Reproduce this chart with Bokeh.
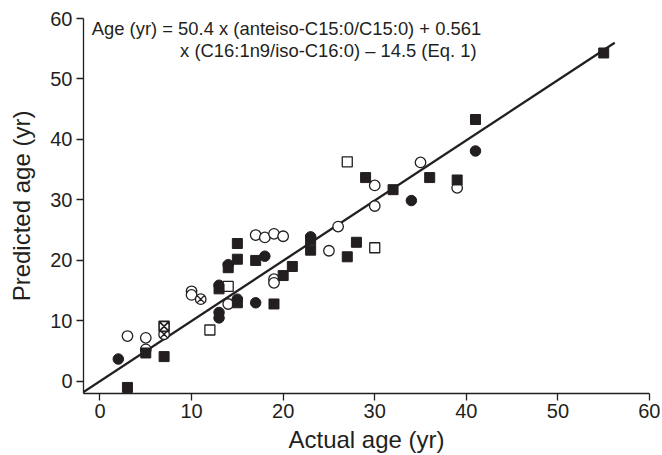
from bokeh.plotting import figure
from bokeh.models import Range1d, FixedTicker, Label
from bokeh.embed import file_html
from bokeh.resources import INLINE

# ---- data ----
# filled squares
sq_x = [3, 5, 7, 13, 14, 15, 15, 15, 17, 19, 20, 21, 23, 23, 27, 28, 29, 32, 36, 39, 41, 55]
sq_y = [-1.0, 4.7, 4.1, 15.3, 18.8, 22.8, 20.2, 13.0, 20.0, 12.8, 17.5, 19.0, 23.4, 21.7,
        20.6, 23.0, 33.7, 31.7, 33.7, 33.3, 43.3, 54.3]
# filled circles
fc_x = [2, 13, 13, 13, 14, 15, 17, 18, 23, 34, 41]
fc_y = [3.7, 15.9, 11.4, 10.5, 19.3, 13.6, 13.0, 20.7, 23.9, 29.9, 38.1]
# open circles
oc_x = [3, 5, 5, 10, 10, 14, 17, 18, 19, 20, 19, 19, 25, 26, 30, 30, 35, 39]
oc_y = [7.5, 7.2, 5.3, 14.9, 14.3, 12.8, 24.2, 23.8, 24.4, 24.0, 16.9, 16.3, 21.6, 25.6,
        32.4, 29.0, 36.2, 32.0]
# open squares
os_x = [12, 14, 27, 30]
os_y = [8.5, 15.7, 36.3, 22.1]
# crossed circles / crossed square
cx_x = [7, 11]
cx_y = [7.8, 13.6]
sx_x = [7]
sx_y = [9.1]
# fitted line
line_x = [-1.8, 56.2]
line_y = [-1.75, 56.0]

ticks = [0, 10, 20, 30, 40, 50, 60]
eq_line1 = "Age (yr) = 50.4 x (anteiso-C15:0/C15:0) + 0.561"
eq_line2 = "x (C16:1n9/iso-C16:0) \u2013 14.5 (Eq. 1)"

INK = "#231f20"
FONT = "Liberation Sans"

p = figure(width=660, height=455, output_backend="svg", toolbar_location=None,
           x_range=Range1d(-1.8, 60), y_range=Range1d(-2, 60),
           min_border_left=83, min_border_right=11, min_border_top=18, min_border_bottom=62)
p.outline_line_color = None
p.xgrid.visible = False
p.ygrid.visible = False
p.background_fill_color = "white"
p.border_fill_color = "white"

for ax in (p.xaxis[0], p.yaxis[0]):
    ax.ticker = FixedTicker(ticks=ticks)
    ax.axis_line_color = INK
    ax.axis_line_width = 1.3
    ax.major_tick_line_color = INK
    ax.major_tick_line_width = 1.3
    ax.major_tick_out = 7
    ax.major_tick_in = 0
    ax.minor_tick_line_color = None
    ax.major_label_text_font = FONT
    ax.major_label_text_font_size = "20px"
    ax.major_label_text_color = INK
    ax.axis_label_text_font = FONT
    ax.axis_label_text_font_size = "24px"
    ax.axis_label_text_font_style = "normal"
    ax.axis_label_text_color = INK

p.xaxis.axis_label = "Actual age (yr)"
p.yaxis.axis_label = "Predicted age (yr)"
p.xaxis.major_label_standoff = 3
p.yaxis.major_label_standoff = 4
p.xaxis.axis_label_standoff = 5
p.yaxis.axis_label_standoff = 12

p.line(line_x, line_y, line_color=INK, line_width=2.3)

p.scatter(oc_x, oc_y, marker="circle", size=10.5, fill_color="white", line_color=INK, line_width=1.3)
p.scatter(fc_x, fc_y, marker="circle", size=10.5, fill_color=INK, line_color=INK)
p.scatter(os_x, os_y, marker="square", size=10, fill_color="white", line_color=INK, line_width=1.3)
p.scatter(sq_x, sq_y, marker="square", size=10, fill_color=INK, line_color=INK)
p.scatter(cx_x, cx_y, marker="circle_x", size=10.5, fill_color="white", line_color=INK, line_width=1.3)
p.scatter(sx_x, sx_y, marker="square_x", size=10, fill_color="white", line_color=INK, line_width=1.6)

p.add_layout(Label(x=-0.9, y=58.35, text=eq_line1, text_font=FONT, text_font_size="18.4px",
                   text_color=INK, text_baseline="alphabetic"))
p.add_layout(Label(x=8.75, y=54.65, text=eq_line2, text_font=FONT, text_font_size="18.4px",
                   text_color=INK, text_baseline="alphabetic"))

open("out.html", "w").write(file_html(p, INLINE))
